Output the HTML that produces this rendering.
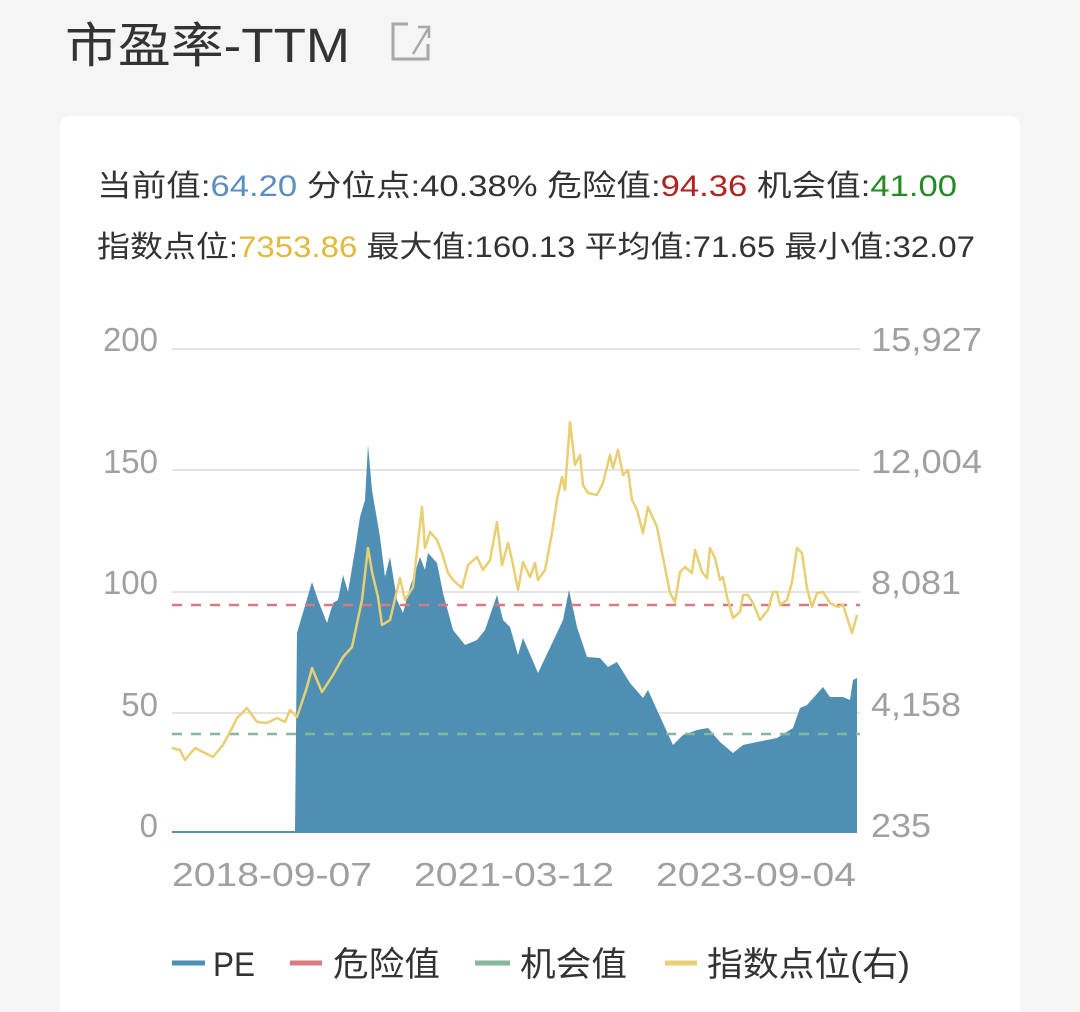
<!DOCTYPE html>
<html><head><meta charset="utf-8"><style>
html,body{margin:0;padding:0;background:#f5f5f5;}
svg{display:block;font-family:"Liberation Sans","Noto Sans CJK SC",sans-serif;}
</style></head><body>
<svg width="1080" height="1012" viewBox="0 0 1080 1012" xmlns="http://www.w3.org/2000/svg">
<rect x="0" y="0" width="1080" height="1012" fill="#f5f5f5"/>
<text x="65" y="62" font-size="48" fill="#333" textLength="285" lengthAdjust="spacingAndGlyphs">市盈率-TTM</text>
<g stroke="#a8a8a8" stroke-width="3" fill="none">
<path d="M408 24 H393 V59 H428 V44"/><path d="M413 54 L428 29 M418 27 H429 V38" stroke-width="2.5"/>
</g>
<rect x="60" y="116" width="960" height="920" rx="10" fill="#fff"/>
<g font-size="30" fill="#333">
<text x="97" y="196" textLength="860" lengthAdjust="spacingAndGlyphs">当前值:<tspan fill="#5b8fc0">64.20</tspan> 分位点:40.38% 危险值:<tspan fill="#b22222">94.36</tspan> 机会值:<tspan fill="#228b22">41.00</tspan></text>
<text x="97" y="257" textLength="878" lengthAdjust="spacingAndGlyphs">指数点位:<tspan fill="#e2b93b">7353.86</tspan> 最大值:160.13 平均值:71.65 最小值:32.07</text>
</g>
<g stroke="#dcdcdc" stroke-width="1.5">
<line x1="172" y1="349" x2="860" y2="349"/><line x1="172" y1="470" x2="860" y2="470"/><line x1="172" y1="592" x2="860" y2="592"/><line x1="172" y1="713" x2="860" y2="713"/>
</g>
<g font-size="33" fill="#a0a0a0" text-anchor="end">
<text x="158" y="351">200</text><text x="158" y="473">150</text><text x="158" y="594">100</text><text x="158" y="716">50</text><text x="158" y="837">0</text>
</g>
<g font-size="33" fill="#a0a0a0">
<text x="871" y="351" textLength="111" lengthAdjust="spacingAndGlyphs">15,927</text><text x="871" y="473" textLength="111" lengthAdjust="spacingAndGlyphs">12,004</text><text x="871" y="594" textLength="90" lengthAdjust="spacingAndGlyphs">8,081</text><text x="871" y="716" textLength="90" lengthAdjust="spacingAndGlyphs">4,158</text><text x="871" y="837" textLength="60" lengthAdjust="spacingAndGlyphs">235</text>
</g>
<path fill="#4e8fb3" d="M172 833 L172 831 L295 831 L297 633 L312 582 L318 600 L327 623 L333 603 L338 600 L343 575 L348 592 L355 550 L360 517 L365 500 L368 445 L372 490 L380 537 L385 577 L390 557 L397 600 L403 613 L410 587 L420 557 L425 570 L428 553 L437 563 L443 593 L453 630 L465 645 L477 640 L485 630 L497 595 L503 620 L510 627 L518 655 L523 638 L538 673 L557 633 L563 620 L569 590 L577 627 L587 657 L600 658 L608 667 L617 662 L630 683 L643 698 L648 690 L657 710 L673 745 L683 735 L697 730 L708 728 L720 742 L733 753 L743 745 L757 742 L777 738 L793 728 L800 708 L807 705 L823 687 L830 697 L843 697 L850 700 L853 680 L857 678 L857 833 Z"/>
<line x1="172" y1="605" x2="860" y2="605" stroke="#d97a80" stroke-width="2.5" stroke-dasharray="10 9"/>
<line x1="172" y1="734" x2="860" y2="734" stroke="#86b79b" stroke-width="2.5" stroke-dasharray="10 9"/>
<polyline fill="none" stroke="#e8cf72" stroke-width="2.5" stroke-linejoin="round" points="172,748 180,750 185,760 195,748 203,752 213,757 223,745 232,728 237,718 247,708 257,722 267,723 277,718 285,722 290,710 297,717 307,687 312,668 322,692 333,675 343,657 352,647 362,600 368,548 372,572 378,597 382,625 390,620 400,578 405,600 413,587 422,507 425,548 430,532 437,540 442,553 448,573 453,580 462,588 468,565 477,557 483,570 490,560 497,522 502,565 508,543 512,560 518,590 523,562 530,577 535,563 538,580 545,570 552,533 557,500 562,477 565,490 570,422 575,465 580,455 583,485 588,493 597,495 603,483 610,455 613,468 618,450 623,475 628,470 632,500 637,510 643,533 648,507 657,527 670,593 675,602 680,572 685,567 692,573 695,550 702,572 707,578 710,548 715,558 720,580 723,577 727,597 733,618 740,612 743,595 748,595 753,603 760,620 768,610 773,592 777,592 780,605 787,600 792,582 797,548 802,553 807,588 812,607 817,593 823,592 830,603 838,607 843,605 852,633 857,615"/>
<g font-size="33" fill="#a0a0a0">
<text x="172" y="886" textLength="200" lengthAdjust="spacingAndGlyphs">2018-09-07</text><text x="414" y="886" textLength="200" lengthAdjust="spacingAndGlyphs">2021-03-12</text><text x="656" y="886" textLength="200" lengthAdjust="spacingAndGlyphs">2023-09-04</text>
</g>
<g stroke-width="5">
<line x1="172" y1="963" x2="205" y2="963" stroke="#4e8fb3"/>
<line x1="290" y1="963" x2="322" y2="963" stroke="#d97a80"/>
<line x1="475" y1="963" x2="510" y2="963" stroke="#86b79b"/>
<line x1="665" y1="963" x2="697" y2="963" stroke="#e8cf72"/>
</g>
<g font-size="34" fill="#333">
<text x="213" y="976" textLength="42" lengthAdjust="spacingAndGlyphs">PE</text><text x="333" y="976" textLength="107" lengthAdjust="spacingAndGlyphs">危险值</text><text x="520" y="976" textLength="107" lengthAdjust="spacingAndGlyphs">机会值</text><text x="707" y="976" textLength="203" lengthAdjust="spacingAndGlyphs">指数点位(右)</text>
</g>
</svg>
</body></html>
